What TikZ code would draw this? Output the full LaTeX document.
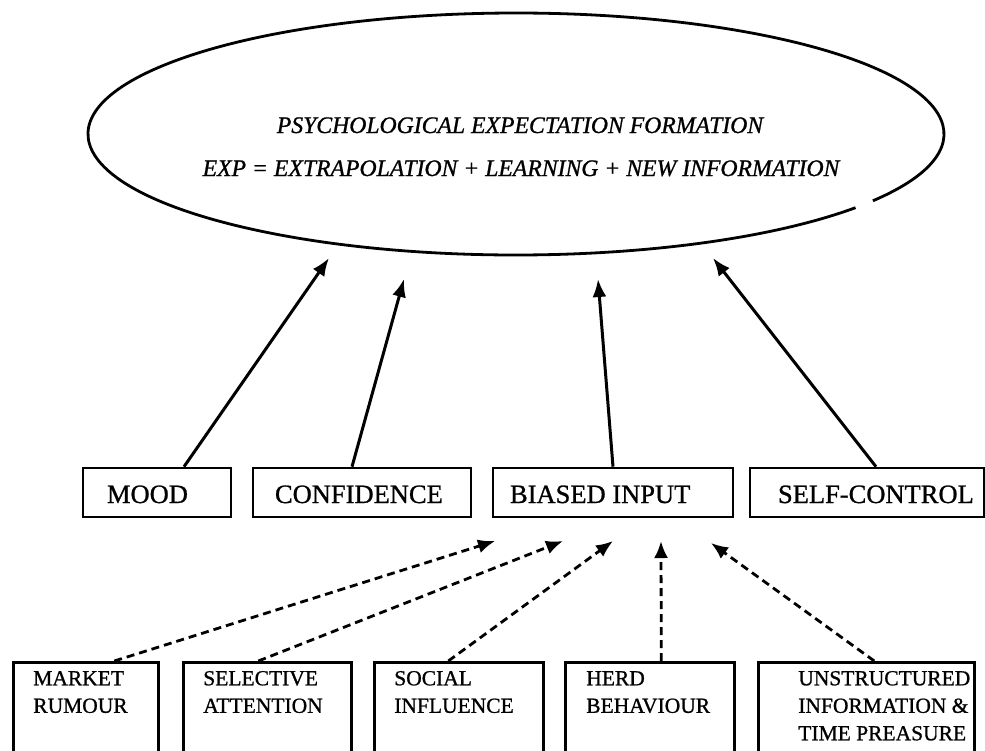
\documentclass[tikz,border=0pt]{standalone}
\usepackage{fontspec}
\setmainfont{Liberation Serif}[FakeBold=0.9]
\usetikzlibrary{arrows.meta}

\begin{document}
\begin{tikzpicture}[x=1pt,y=-1pt,
  outline/.style={line width=2.8pt},
  midbox/.style={draw, line width=2.6pt, inner xsep=0pt, inner ysep=14pt,
    text height=21pt, text depth=0pt, font=\fontsize{26.5}{30}\selectfont},
  botbox/.style={draw, line width=2.6pt, anchor=north west, inner xsep=0pt,
    inner ysep=8pt, text height=15pt, text depth=95pt,
    font=\fontsize{21.5}{27.5}\selectfont},
  headline/.style={anchor=base, inner sep=0pt,
    font=\fontsize{23.7}{28}\selectfont\itshape},
  solidarrow/.style={line width=3pt, -{Latex[length=18pt,width=14pt]}},
  dasharrow/.style={line width=2.8pt, dash pattern=on 8pt off 5pt,
    -{Latex[length=17pt,width=14pt]}}
]
\path[use as bounding box, clip] (0,0) rectangle (985,750);
\fill[white] (0,0) rectangle (985,750);

% expectation-formation ellipse (outline left open at the lower right)
\coordinate (ec) at (516,134);
\draw[outline] (ec) ++(37.5:428 and 121)
  arc[start angle=37.5, end angle=393.5, x radius=428, y radius=121];
\node[headline] (title) at (520,133) {PSYCHOLOGICAL EXPECTATION FORMATION};
\node[headline] (formula) at (521,176)
  {EXP = EXTRAPOLATION + LEARNING + NEW INFORMATION};

% middle row of factors
\node[midbox] (mood) at (157,492.5) {\makebox[148pt][l]{\hspace*{24pt}MOOD}};
\node[midbox] (conf) at (362,492.5) {\makebox[218pt][l]{\hspace*{22pt}CONFIDENCE}};
\node[midbox] (bias) at (613,492.5) {\makebox[240pt][l]{\hspace*{17pt}BIASED INPUT}};
\node[midbox] (self) at (867,492.5) {\makebox[234pt][l]{\hspace*{28pt}SELF-CONTROL}};

% bottom row of sources of biased input
\node[botbox] (rum) at (12,661)
  {\hspace*{20pt}\parbox[t]{125pt}{MARKET\\RUMOUR}};
\node[botbox] (att) at (182,661)
  {\hspace*{20pt}\parbox[t]{148pt}{SELECTIVE\\ATTENTION}};
\node[botbox] (soc) at (373,661)
  {\hspace*{20pt}\parbox[t]{149pt}{SOCIAL\\INFLUENCE}};
\node[botbox] (herd) at (564,661)
  {\hspace*{21pt}\parbox[t]{148pt}{HERD\\BEHAVIOUR}};
\node[botbox] (unst) at (757,661)
  {\hspace*{40pt}\parbox[t]{176pt}{UNSTRUCTURED\\INFORMATION \&\\TIME PREASURE}};

% arrow ends below the ellipse
\coordinate (e1) at (329,258);
\coordinate (e2) at (404,279);
\coordinate (e3) at (598,279);
\coordinate (e4) at (713,258);

% arrow ends below the biased-input box
\coordinate (b1) at (495,541);
\coordinate (b2) at (563,541);
\coordinate (b3) at (613,541);
\coordinate (b4) at (661,541);
\coordinate (b5) at (711,543);

\draw[solidarrow] ([xshift=27pt]mood.north) -- (e1);
\draw[solidarrow] ([xshift=-10pt]conf.north) -- (e2);
\draw[solidarrow] (bias.north) -- (e3);
\draw[solidarrow] ([xshift=9pt]self.north) -- (e4);

\draw[dasharrow] ([xshift=28.5pt]rum.north) -- (b1);
\draw[dasharrow] ([xshift=-9pt]att.north) -- (b2);
\draw[dasharrow] ([xshift=-10.5pt]soc.north) -- (b3);
\draw[dasharrow] ([xshift=11.5pt]herd.north) -- (b4);
\draw[dasharrow] ([xshift=8pt]unst.north) -- (b5);
\end{tikzpicture}
\end{document}
